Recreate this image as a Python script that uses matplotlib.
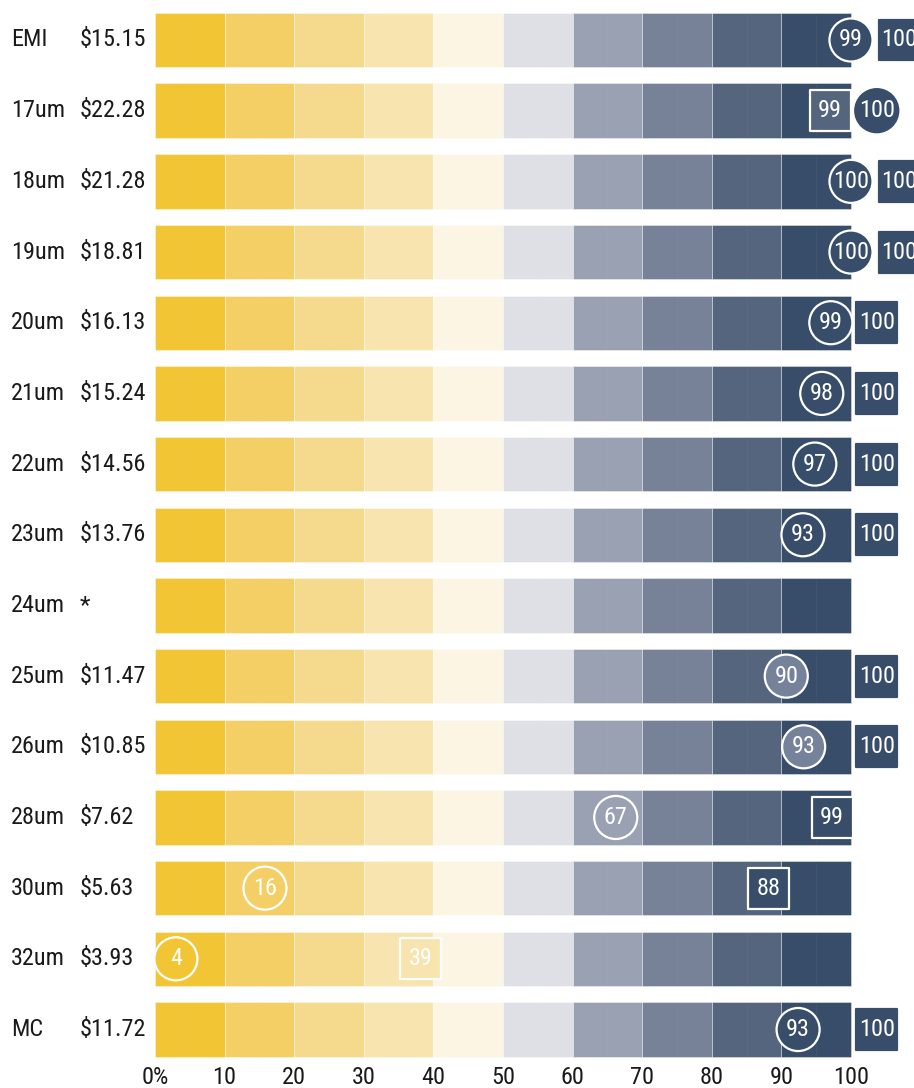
"""
Percentile bands by micron, with two marker series per row
"""

import matplotlib
matplotlib.use('Agg')
import matplotlib.pyplot as plt
from matplotlib import font_manager

# look for a narrow / condensed sans face, otherwise fall back to Roboto
narrow = []
for f in font_manager.fontManager.ttflist:
    st = f.stretch
    is_cond = ('Condensed' in f.name or 'Narrow' in f.name or
               st in ('condensed', 'semi-condensed', 'extra-condensed', 'ultra-condensed') or
               (isinstance(st, int) and st < 100))
    if is_cond and f.style == 'normal' and f.weight in (400, 'normal', 'regular'):
        narrow.append(f)
pref = ['Roboto', 'Noto Sans', 'Open Sans', 'Liberation', 'DejaVu', 'Lato', 'Inter']
narrow.sort(key=lambda f: next((i for i, p in enumerate(pref) if f.name.startswith(p)), 99))
if narrow:
    plt.rcParams['font.family'] = [narrow[0].name, 'DejaVu Sans']
    plt.rcParams['font.stretch'] = narrow[0].stretch
else:
    plt.rcParams['font.family'] = ['Roboto', 'DejaVu Sans']

rows = ['EMI', '17um', '18um', '19um', '20um', '21um', '22um', '23um', '24um',
        '25um', '26um', '28um', '30um', '32um', 'MC']
prices = ['$15.15', '$22.28', '$21.28', '$18.81', '$16.13', '$15.24', '$14.56', '$13.76', '*',
          '$11.47', '$10.85', '$7.62', '$5.63', '$3.93', '$11.72']

band_edges = [0, 10, 20, 30, 40, 50, 60, 70, 80, 90, 100]
band_colors = ['#F2C535', '#F4CF66', '#F5D98C', '#F8E4AF', '#FDF5E3',
               '#DFE0E5', '#9AA1B3', '#778197', '#56657E', '#384D69']

# circle markers: row, position, label
circ_row = [0, 1, 2, 3, 4, 5, 6, 7, 9, 10, 11, 12, 13, 14]
circ_pos = [100, 103.7, 100, 100, 97.1, 95.8, 94.8, 93.1, 90.7, 93.2, 66.2, 15.8, 3.0, 92.4]
circ_val = [99, 100, 100, 100, 99, 98, 97, 93, 90, 93, 67, 16, 4, 93]

# square markers: row, position, label
sq_row = [0, 1, 2, 3, 4, 5, 6, 7, 9, 10, 11, 12, 13, 14]
sq_pos = [106.9, 97.0, 106.9, 106.9, 103.7, 103.7, 103.7, 103.7, 103.7, 103.7, 97.3, 88.1, 38.2, 103.7]
sq_val = [100, 99, 100, 100, 100, 100, 100, 100, 100, 100, 99, 88, 39, 100]

DARK = '#384D69'
circ_fill = [DARK, DARK, DARK, DARK, DARK, DARK, DARK, DARK, '#76819A', '#76819A',
             '#9AA1B3', '#F4CF66', '#F2C535', DARK]
circ_edge = ['white', DARK, 'white', 'white', 'white', 'white', 'white', 'white', 'white', 'white',
             'white', 'white', 'white', 'white']
sq_fill = [DARK, '#56657E', DARK, DARK, DARK, DARK, DARK, DARK, DARK, DARK,
           DARK, DARK, '#F8E4AF', DARK]
sq_edge = [DARK, 'white', DARK, DARK, DARK, DARK, DARK, DARK, DARK, DARK,
           'white', 'white', 'white', DARK]

fig = plt.figure(figsize=(9.14, 10.88), dpi=100)
ax = fig.add_axes([0, 28/1088, 1, 1 - 28/1088])

n = len(rows)
for i in range(n):
    for k in range(10):
        ax.barh(i, band_edges[k+1] - band_edges[k], left=band_edges[k], height=0.77,
                color=band_colors[k], edgecolor=(1, 1, 1, 0.45), linewidth=0.6, zorder=1)
    # faint mid-band lines
    ax.vlines(range(5, 100, 10), i - 0.385, i + 0.385,
              color='white', alpha=0.03, linewidth=0.8, zorder=1.5)
    ax.text(-20.7, i, rows[i], ha='left', va='center', fontsize=17.5, color='#1a1a1a')
    ax.text(-10.8, i, prices[i], ha='left', va='center', fontsize=17.5, color='#1a1a1a')

ax.scatter(circ_pos, circ_row, s=31**2, marker='o', c=circ_fill,
           edgecolors=circ_edge, linewidths=1.6, zorder=3)
for x, y, v in zip(circ_pos, circ_row, circ_val):
    ax.text(x, y, str(v), ha='center', va='center', fontsize=17.5, color='white', zorder=4)

ax.scatter(sq_pos, sq_row, s=29.5**2, marker='s', c=sq_fill,
           edgecolors=sq_edge, linewidths=1.6, zorder=3)
for x, y, v in zip(sq_pos, sq_row, sq_val):
    ax.text(x, y, str(v), ha='center', va='center', fontsize=17.5, color='white', zorder=4)

ax.set_xlim(-155/6.96, (914 - 155)/6.96)
ax.set_ylim((1060 - 40)/70.68, -40/70.68)
ax.set_xticks(band_edges)
ax.set_xticklabels(['0%'] + [str(v) for v in band_edges[1:]], fontsize=17.5, color='#1a1a1a')
ax.tick_params(axis='x', length=0, pad=4)
ax.set_yticks([])
for s in ax.spines.values():
    s.set_visible(False)

fig.savefig('out.png', dpi=100)
